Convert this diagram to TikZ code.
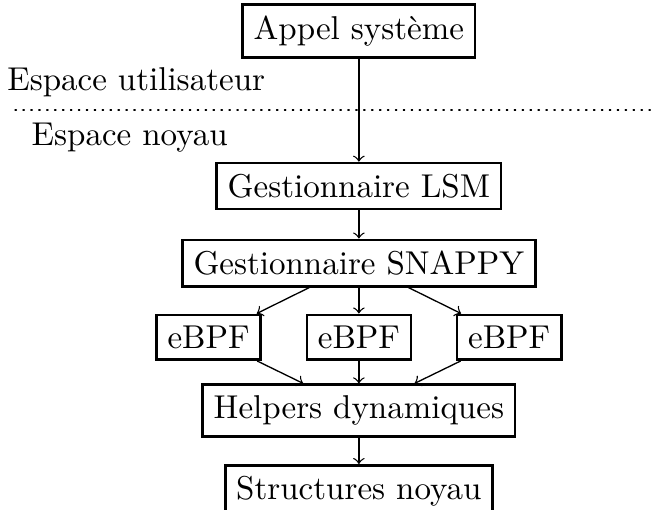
\documentclass[tikz,border=0pt]{standalone}
\usepackage{fontspec}
\usetikzlibrary{positioning}

\begin{document}
\begin{tikzpicture}[line cap=round]

%---- STYLES ----
\tikzset{
    box/.style={draw, thick},
    flow/.style={->},
    sep/.style={dotted},
}

\useasboundingbox (-3.82,0.33) rectangle (3.12,-5.09);

%---- NODES ----
\node[box] (appel) at (0,0) {Appel système};
\node[box] (lsm) at (0,-1.65) {Gestionnaire LSM};
\node[box] (snappy) at (0,-2.47) {Gestionnaire SNAPPY};

% the three eBPF programs
\node[box] (ebpfA) at (-1.6,-3.26) {eBPF};
\node[box] (ebpfB) at (0,-3.26) {eBPF};
\node[box] (ebpfC) at (1.6,-3.26) {eBPF};

\node[box] (helpers) at (0,-4.04) {Helpers dynamiques};
\node[box] (structs) at (0,-4.9) {Structures noyau};

%---- USER / KERNEL SPLIT ----
\node (user) at (-2.37,-0.55) {Espace utilisateur};
\node (kernel) at (-2.44,-1.13) {Espace noyau};
\coordinate (sepL) at (-3.66,-0.84);
\coordinate (sepR) at (3.3,-0.84);
\draw[sep] (sepL) -- (sepR);

%---- ARROWS ----
\draw[flow] (appel) -- (lsm);
\draw[flow] (lsm) -- (snappy);
\foreach \e in {ebpfA,ebpfB,ebpfC}{
    \draw[flow] (snappy) -- (\e);
    \draw[flow] (\e) -- (helpers);
}
\draw[flow] (helpers) -- (structs);

\end{tikzpicture}
\end{document}
